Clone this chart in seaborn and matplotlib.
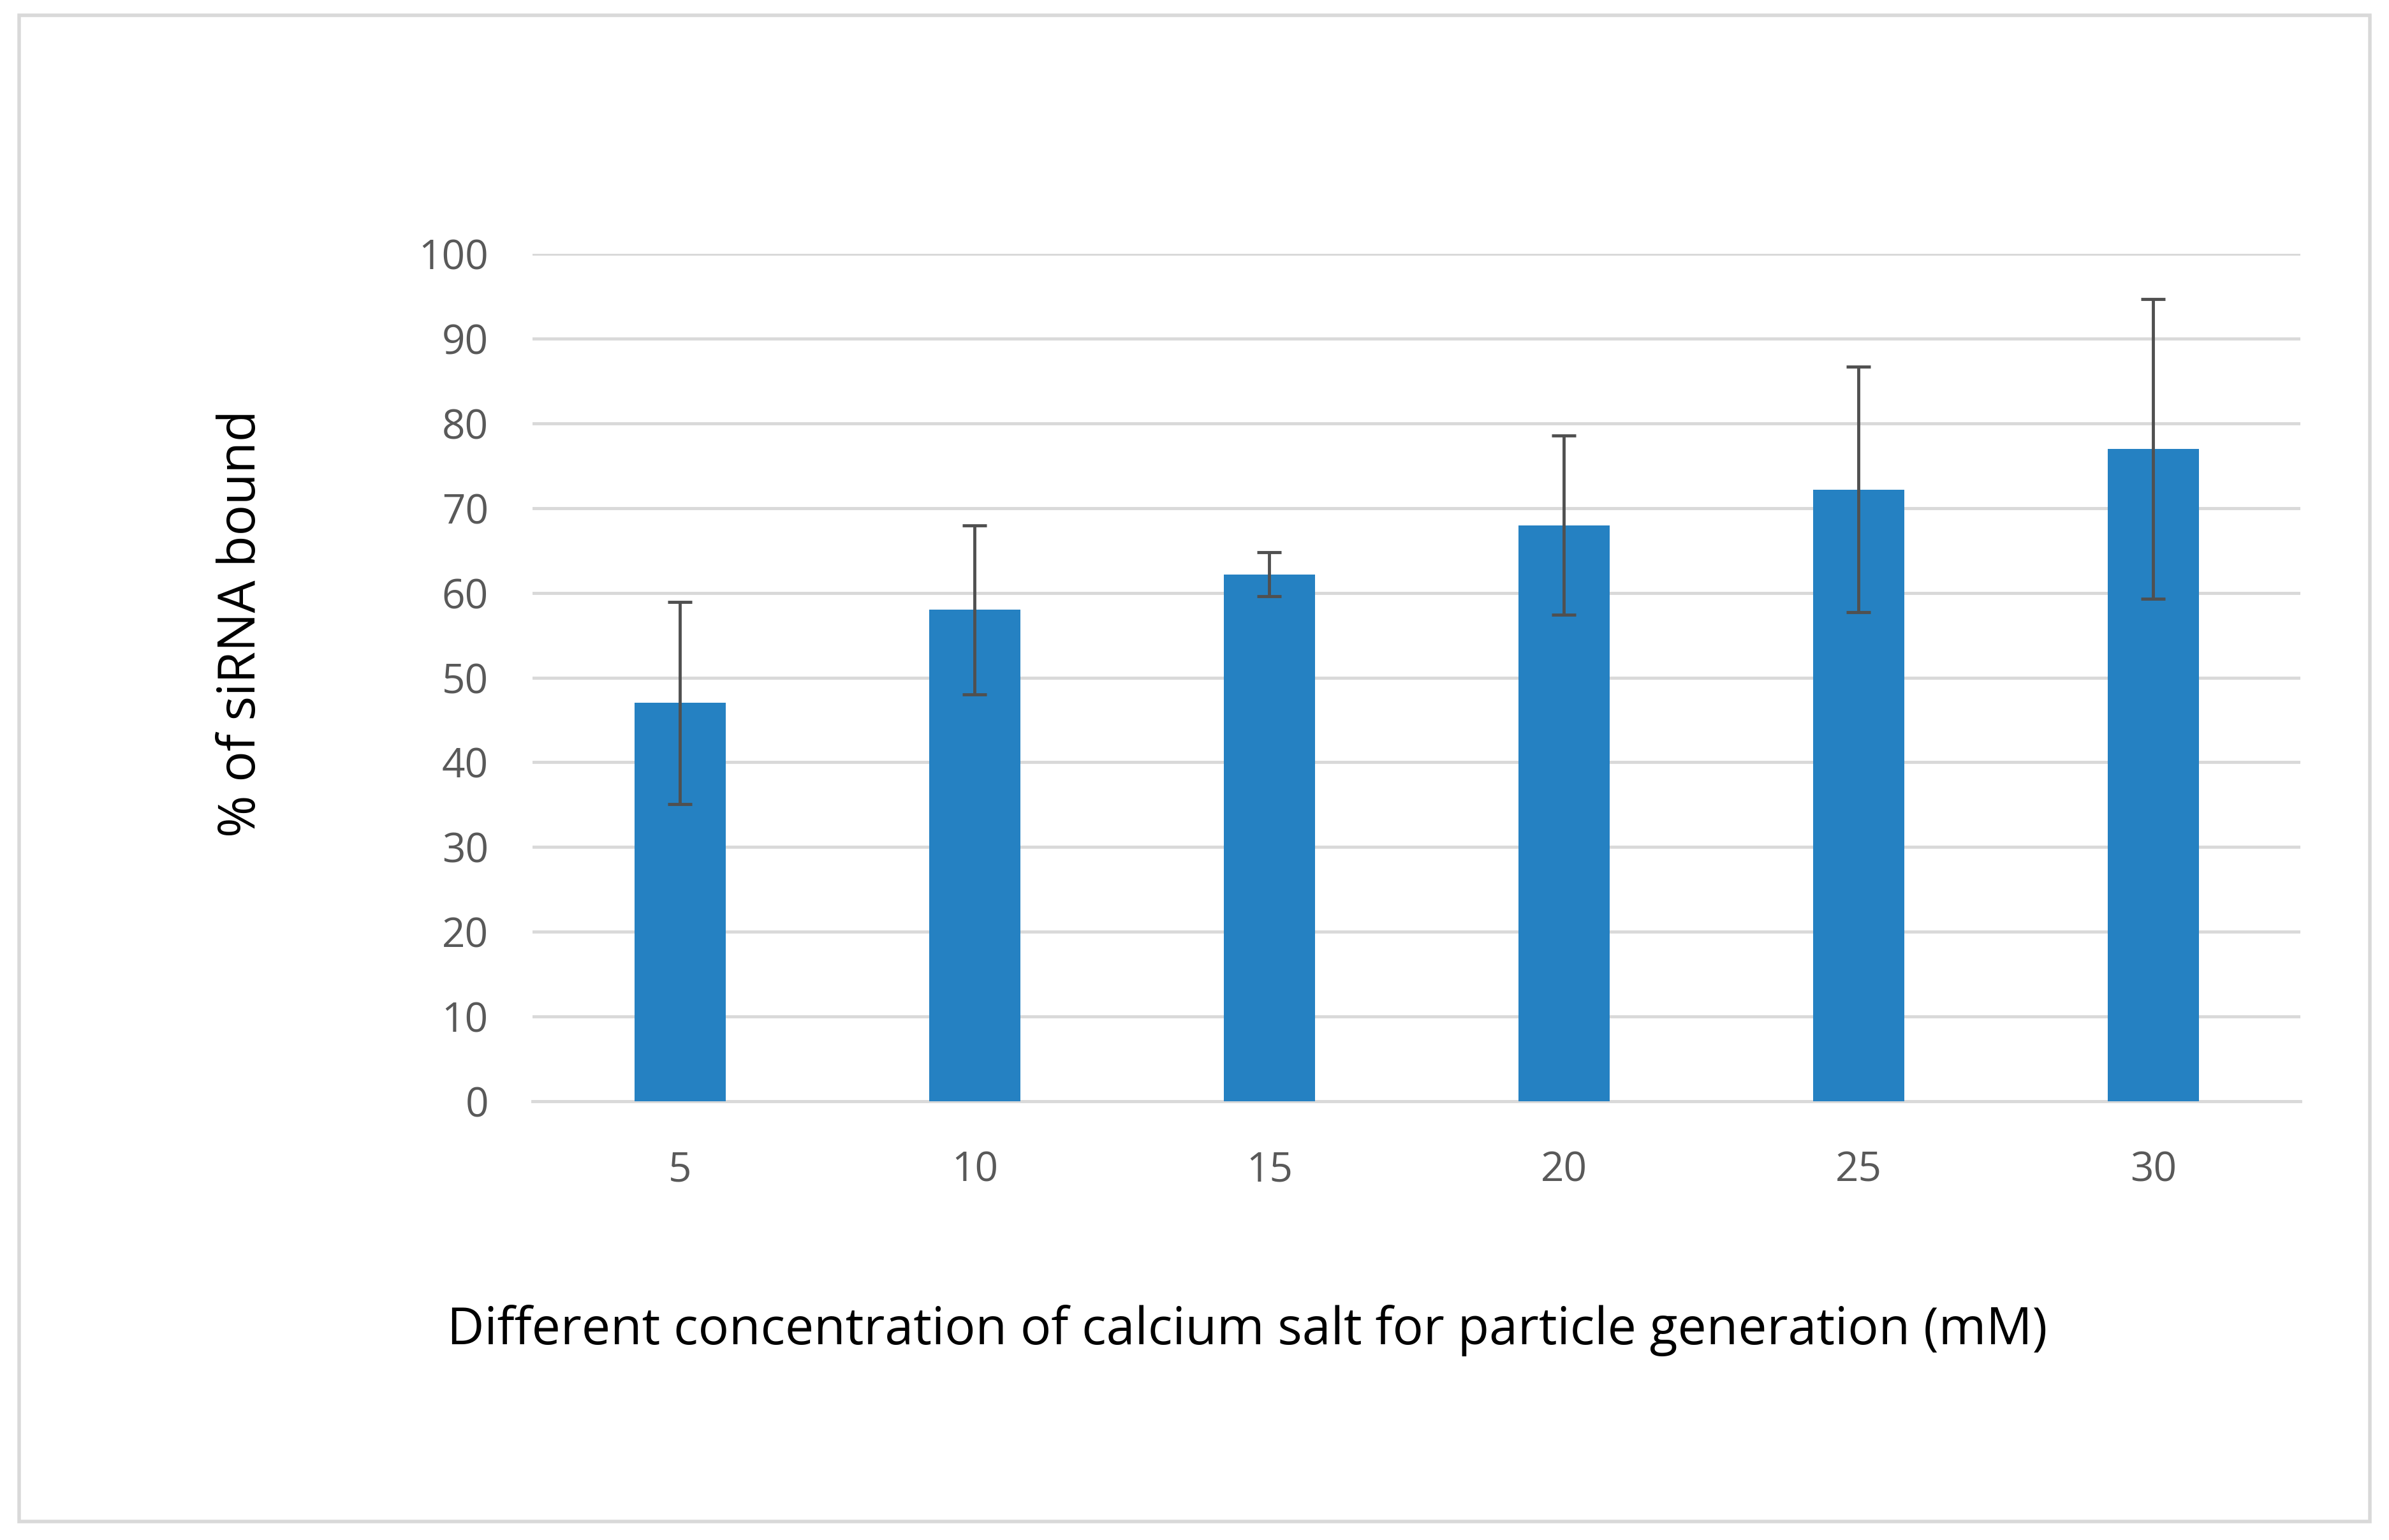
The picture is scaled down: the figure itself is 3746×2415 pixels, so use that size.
import matplotlib
matplotlib.use("Agg")
import matplotlib.pyplot as plt
import seaborn as sns
import pandas as pd
from matplotlib.patches import Rectangle

categories = ["5", "10", "15", "20", "25", "30"]
values = [47, 58, 62.2, 68, 72.2, 77]
errors = [11.9, 10, 2.6, 10.6, 14.5, 17.7]
yticks = [0, 10, 20, 30, 40, 50, 60, 70, 80, 90, 100]

df = pd.DataFrame({"conc": categories, "val": values})

plt.rcParams["font.family"] = "Open Sans"
fig = plt.figure(figsize=(37.46, 24.15), dpi=100)
ax = fig.add_axes([0.223, 0.285, 0.74, 0.55])
sns.barplot(data=df, x="conc", y="val", color="#2581C2", saturation=1, width=0.31, ax=ax, zorder=3)
ax.errorbar(range(len(values)), values, yerr=errors, fmt="none", ecolor="#505050",
            elinewidth=3.5, capsize=14, capthick=3.5, zorder=4)
ax.set_ylim(0, 100)
ax.set_xlim(-0.5, 5.5)
ax.set_yticks(yticks)
ax.yaxis.grid(True, color="#D9D9D9", linewidth=3.5, zorder=0)
ax.set_axisbelow(True)
for s in ["top", "right", "left"]:
    ax.spines[s].set_visible(False)
ax.spines["bottom"].set_color("#D9D9D9")
ax.spines["bottom"].set_linewidth(3.5)
ax.tick_params(axis="both", length=0, labelsize=46, labelcolor="#595959", pad=50)
ax.tick_params(axis="x", pad=55)
ax.set_xlabel("")
ax.set_ylabel("")
fig.text(0.522, 0.136, "Different concentration of calcium salt for particle generation (mM)",
         fontsize=58, ha="center", va="center")
fig.text(0.101, 0.595, "% of siRNA bound", fontsize=58, rotation=90, ha="center", va="center")
fig.patches.append(Rectangle((0.008, 0.012), 0.984, 0.978, transform=fig.transFigure,
                             fill=False, edgecolor="#D9D9D9", linewidth=4))
fig.savefig("out.png", dpi=100, facecolor="white")
